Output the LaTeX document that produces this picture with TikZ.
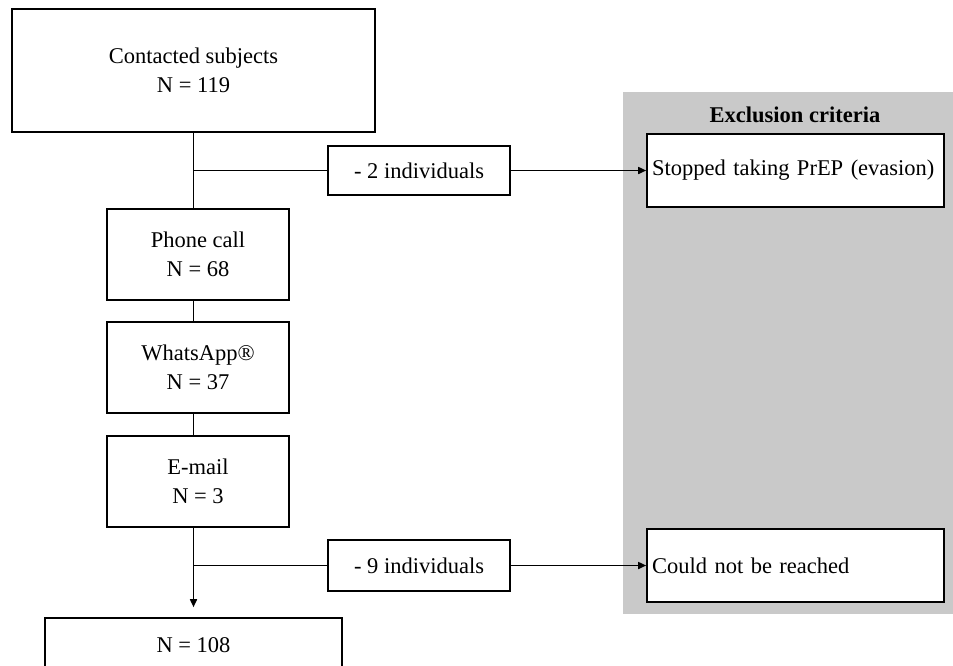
\documentclass[tikz,border=0pt]{standalone}
\usepackage{fontspec}
\setmainfont{Liberation Serif}
\usepackage{xcolor}
\usetikzlibrary{arrows.meta, positioning, calc}
\definecolor{exclgray}{RGB}{201,201,201}

\begin{document}
\begin{tikzpicture}[
    x=1pt, y=-1pt,
    box/.style={
        draw, line width=1.6pt, fill=white, align=center, inner sep=0pt,
        font=\fontsize{22.5}{29}\selectfont
    },
    reason/.style={
        box, minimum width=297pt, minimum height=73pt, text width=287pt,
        align=left, inner xsep=5pt
    },
    panel/.style={
        fill=exclgray, minimum width=330pt, minimum height=522pt, inner sep=0pt
    },
    link/.style={line width=1.6pt},
    arr/.style={-{Triangle[length=8pt, width=7pt]}, line width=1.6pt}
]
\useasboundingbox (0,0) rectangle (953,665);
\clip (0,0) rectangle (953,665);

% Exclusion panel
\node[panel] (excl) at (788,353) {};
\node[font=\fontsize{22.5}{29}\selectfont\bfseries] (excltitle) at (795,115) {Exclusion criteria};

% Main flow
\node[box, minimum width=363pt, minimum height=123pt] (contact) at (193.5,70.5) {Contacted subjects\\N = 119};
\node[box, minimum width=182pt, minimum height=91pt] (phone) at (198,254.5) {Phone call\\N = 68};
\node[box, minimum width=182pt, minimum height=91pt] (whats) at (198,367.5) {WhatsApp®\\N = 37};
\node[box, minimum width=182pt, minimum height=91pt] (email) at (198,481.5) {E-mail\\N = 3};
\node[box, minimum width=297pt, minimum height=54pt] (final) at (193.5,645) {N = 108};

% Dropouts
\node[box, minimum width=182pt, minimum height=49pt] (drop1) at (419,170.5) {- 2 individuals};
\node[box, minimum width=182pt, minimum height=51pt] (drop2) at (419,565.5) {- 9 individuals};

% Reasons
\node[reason] (stop) at (795.5,170.5) {Stopped taking PrEP (evasion)};
\node[reason] (reach) at (795.5,565.5) {Could not be reached};

% Connectors
\draw[link] (contact.south) -- (contact.south |- phone.north);
\draw[link] (phone.south -| contact.south) -- (contact.south |- whats.north);
\draw[link] (whats.south -| contact.south) -- (contact.south |- email.north);
\draw[arr, shorten >=10pt] (email.south -| final.north) -- (final.north);
\draw[link] (contact.south |- drop1.west) -- (drop1.west);
\draw[link] (final.north |- drop2.west) -- (drop2.west);
\draw[arr] (drop1.east) -- (stop.west);
\draw[arr] (drop2.east) -- (reach.west);

\end{tikzpicture}
\end{document}
